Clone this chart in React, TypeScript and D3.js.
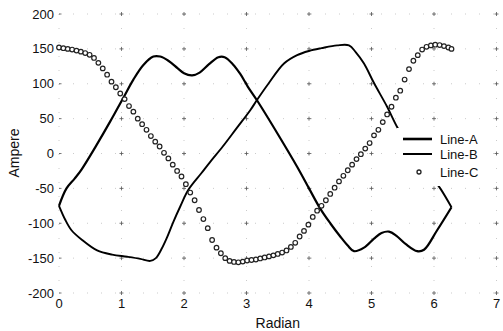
import * as d3 from "d3";

const width = 503;
const height = 331;

const xTicks = [0, 1, 2, 3, 4, 5, 6, 7];
const yTicks = [-200, -150, -100, -50, 0, 50, 100, 150, 200];

// Line-A (solid, thick)
const lineAX = [0, 0.12, 0.25, 0.36, 0.6, 0.82, 1.03, 1.19, 1.35, 1.51, 1.62, 1.75, 1.9, 2.0, 2.13, 2.25, 2.4, 2.55, 2.65, 2.78, 2.9, 3.02, 3.17, 3.5, 3.81, 4.0, 4.18, 4.34, 4.5, 4.62, 4.72, 4.88, 5.04, 5.16, 5.28, 5.4, 5.55, 5.73, 5.84, 6.05, 6.28];
const lineAY = [-75, -50, -36, -23, 12, 46, 80, 106, 127, 139, 139, 133, 122, 115, 112, 116, 128, 138, 138, 128, 114, 96, 76, 28, -19, -50, -79, -100, -119, -132, -140, -135, -122, -114, -112, -118, -130, -140, -138, -110, -77];

// Line-B (solid)
const lineBX = [0, 0.1, 0.2, 0.37, 0.61, 0.85, 1.09, 1.3, 1.46, 1.55, 1.64, 1.72, 1.83, 1.94, 2.07, 2.28, 2.42, 2.62, 2.84, 3.06, 3.17, 3.35, 3.6, 3.81, 4.0, 4.2, 4.45, 4.64, 4.75, 4.88, 5.04, 5.25, 5.41, 5.6, 5.8, 5.95, 6.1, 6.28];
const lineBY = [-75, -95, -110, -124, -139, -145, -148, -151, -154, -150, -137, -122, -98, -76, -52, -28, -12, 10, 36, 62, 77, 100, 129, 141, 147, 151, 155, 155, 145, 129, 101, 67, 38, 10, -15, -32, -50, -77];

// Line-C (circles)
const lineCX = [0, 0.07, 0.14, 0.21, 0.28, 0.35, 0.42, 0.49, 0.56, 0.63, 0.7, 0.77, 0.84, 0.91, 0.98, 1.05, 1.12, 1.19, 1.26, 1.33, 1.4, 1.47, 1.54, 1.61, 1.68, 1.75, 1.82, 1.89, 1.96, 2.03, 2.1, 2.17, 2.24, 2.31, 2.38, 2.45, 2.52, 2.59, 2.66, 2.73, 2.8, 2.87, 2.94, 3.01, 3.08, 3.15, 3.22, 3.29, 3.36, 3.43, 3.5, 3.57, 3.64, 3.71, 3.78, 3.85, 3.92, 3.99, 4.06, 4.13, 4.2, 4.27, 4.34, 4.41, 4.48, 4.55, 4.62, 4.69, 4.76, 4.83, 4.9, 4.97, 5.04, 5.11, 5.18, 5.25, 5.32, 5.39, 5.46, 5.53, 5.6, 5.67, 5.74, 5.81, 5.88, 5.95, 6.02, 6.09, 6.16, 6.23, 6.28];
const lineCY = [152, 151, 150, 149, 147.5, 146, 144, 141.5, 137, 130, 122, 113, 103, 95, 86, 78, 68, 60, 50, 42, 34, 25, 17, 10, 1, -7, -16, -25, -33, -44, -56, -67, -81, -94, -107, -124, -135, -143, -150, -154, -155.5, -156, -155, -153.5, -152.7, -152, -150.5, -149, -147.5, -146, -144, -142, -139, -134, -128, -119, -111, -102, -91, -82, -75, -67, -58, -49, -40, -32, -24, -16, -8, -1, 7, 15, 26, 34, 45, 56, 67, 80, 90, 106, 121, 133, 141, 149, 153, 155, 156, 155.5, 154, 152, 150];

const legendLabels = ["Line-A", "Line-B", "Line-C"];

const font = "'Liberation Sans', Arial, Helvetica, sans-serif";

export default function App() {
  const x = d3.scaleLinear().domain([0, 7]).range([59, 496.5]);
  const y = d3.scaleLinear().domain([-200, 200]).range([293, 14]);

  const line = d3
    .line<[number, number]>()
    .x((d) => x(d[0]))
    .y((d) => y(d[1]))
    .curve(d3.curveCatmullRom.alpha(0.5));

  const ptsA = lineAX.map((v, i) => [v, lineAY[i]] as [number, number]);
  const ptsB = lineBX.map((v, i) => [v, lineBY[i]] as [number, number]);
  const ptsC = lineCX.map((v, i) => [v, lineCY[i]] as [number, number]);

  // legend position
  const lgX = 397;
  const lgY = 128;

  return (
    <div style={{ position: "absolute", left: 0, top: 0 }}>
      <svg width={width} height={height} style={{ display: "block", background: "#fff" }}>
        {/* sparse dotted grid */}
        <g stroke="#b5b5b5" strokeWidth={0.7} strokeDasharray="1 13">
          {xTicks.map((t) => (
            <line key={"gx" + t} x1={x(t)} x2={x(t)} y1={y(200)} y2={y(-200)} />
          ))}
          {yTicks.map((t) => (
            <line key={"gy" + t} x1={x(0)} x2={x(7)} y1={y(t)} y2={y(t)} />
          ))}
        </g>
        {/* small crosses at grid intersections */}
        <g stroke="#555" strokeWidth={0.8}>
          {xTicks.slice(1).map((tx) =>
            yTicks.map((ty) => (
              <g key={`c${tx}_${ty}`}>
                <line x1={x(tx) - 2} x2={x(tx) + 2} y1={y(ty)} y2={y(ty)} />
                <line x1={x(tx)} x2={x(tx)} y1={y(ty) - 2} y2={y(ty) + 2} />
              </g>
            )),
          )}
          {yTicks.map((ty) => (
            <line key={"ty" + ty} x1={x(0)} x2={x(0) + 2.5} y1={y(ty)} y2={y(ty)} />
          ))}
        </g>

        {/* y tick labels */}
        <g fontFamily={font} fontSize={13} fill="#111" textAnchor="end">
          {yTicks.map((t) => (
            <text key={"yl" + t} x={54} y={y(t) + 4.5}>
              {t}
            </text>
          ))}
        </g>
        {/* x tick labels */}
        <g fontFamily={font} fontSize={13} fill="#111" textAnchor="middle">
          {xTicks.map((t) => (
            <text key={"xl" + t} x={x(t)} y={308}>
              {t}
            </text>
          ))}
        </g>

        <text x={x(3.5)} y={328} fontFamily={font} fontSize={14} textAnchor="middle" fill="#111">
          Radian
        </text>
        <text
          transform="translate(19,153) rotate(-90)"
          fontFamily={font}
          fontSize={14}
          textAnchor="middle"
          fill="#111"
        >
          Ampere
        </text>

        {/* series */}
        <path d={line(ptsA) ?? ""} fill="none" stroke="#000" strokeWidth={2.2} strokeLinejoin="round" />
        <path d={line(ptsB) ?? ""} fill="none" stroke="#000" strokeWidth={1.9} strokeLinejoin="round" />
        <g fill="#fff" stroke="#222" strokeWidth={1.2}>
          {ptsC.map((d, i) => (
            <circle key={"c" + i} cx={x(d[0])} cy={y(d[1])} r={2.3} />
          ))}
        </g>

        {/* legend */}
        <rect x={lgX} y={lgY} width={93} height={58} fill="#fff" />
        <g fontFamily={font} fontSize={13} fill="#111">
          {legendLabels.map((label, i) => {
            const cy = [139, 154, 172][i];
            return (
              <g key={label}>
                {i < 2 ? (
                  <line x1={403} x2={432} y1={cy} y2={cy} stroke="#000" strokeWidth={i === 0 ? 2.6 : 2} />
                ) : (
                  <circle cx={419} cy={cy} r={2} fill="#fff" stroke="#222" strokeWidth={1.3} />
                )}
                <text x={440} y={cy + 4.5}>
                  {label}
                </text>
              </g>
            );
          })}
        </g>
      </svg>
    </div>
  );
}
